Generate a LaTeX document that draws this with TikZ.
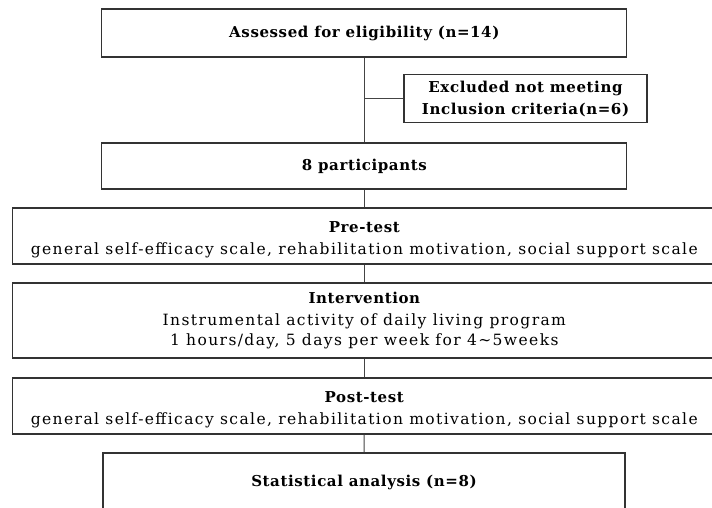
\documentclass[tikz,border=0pt]{standalone}
\usepackage{fontspec}
\setmainfont{DejaVu Serif}
\newfontfamily\bodyf[LetterSpace=9]{DejaVu Serif}
\newfontfamily\headf[LetterSpace=4]{DejaVu Serif}
\definecolor{boxc}{HTML}{333333}
\definecolor{linec}{HTML}{444444}
\begin{document}
\begin{tikzpicture}[x=1pt,y=-1pt,
  box/.style={draw=boxc, line width=1.2pt, inner sep=0pt, align=center,
              font=\bodyf\fontsize{15.5}{19.5}\selectfont},
  tbox/.style={box, font=\headf\bfseries\fontsize{15}{22}\selectfont},
  conn/.style={draw=linec, line width=1pt}]
\useasboundingbox (0,0) rectangle (712,508);
\fill[white] (0,0) rectangle (712,508);
\node[tbox, minimum width=525pt, minimum height=48pt] (assess) at (364.3,33) {Assessed for eligibility (n=14)};
\node[tbox, minimum width=243pt, minimum height=48pt] (excl) at (525.5,98.5) {Excluded not meeting\\Inclusion criteria(n=6)};
\node[tbox, minimum width=525pt, minimum height=46pt] (part) at (364.3,166) {8 participants};
\node[box, minimum width=703pt, minimum height=56pt] (pre) at (364.3,236) {{\headf\bfseries\fontsize{15}{19.5}\selectfont\rule{0pt}{18pt}Pre-test}\\[3pt]general self-efficacy scale, rehabilitation motivation, social support scale};
\node[box, minimum width=703pt, minimum height=75pt] (interv) at (364.3,320.5) {{\headf\bfseries\fontsize{15}{19.5}\selectfont Intervention}\\[3pt]Instrumental activity of daily living program\\1 hours/day, 5 days per week for 4\textasciitilde5weeks};
\node[box, minimum width=703pt, minimum height=56pt] (post) at (364.3,406) {{\headf\bfseries\fontsize{15}{19.5}\selectfont\rule{0pt}{18pt}Post-test}\\[3pt]general self-efficacy scale, rehabilitation motivation, social support scale};
\node[tbox, minimum width=522pt, minimum height=58pt] (stat) at (364,482) {Statistical analysis (n=8)};
\coordinate (br) at (assess.south |- excl.west);
\draw[conn] (assess.south) -- (part.north);
\draw[conn] (br) -- (excl.west);
\draw[conn] (part) -- (pre);
\draw[conn] (pre) -- (interv);
\draw[conn] (interv) -- (post);
\draw[conn] (post) -- (stat);
\end{tikzpicture}
\end{document}
